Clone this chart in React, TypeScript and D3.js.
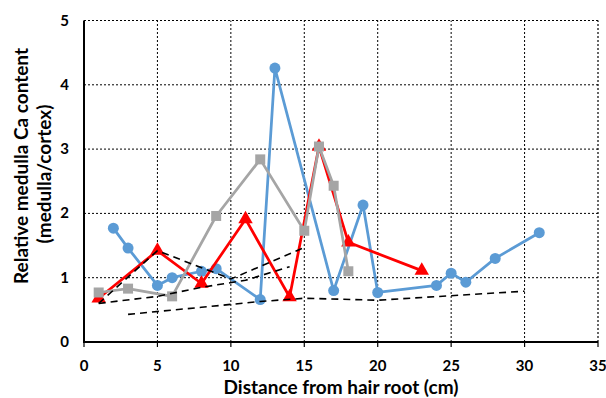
import React from "react";
import * as d3 from "d3";

const blueX = [2, 3, 5, 6, 8, 9, 12, 13, 17, 19, 20, 24, 25, 26, 28, 31];
const blueY = [1.77, 1.46, 0.88, 1.0, 1.1, 1.14, 0.66, 4.26, 0.8, 2.13, 0.77, 0.88, 1.07, 0.93, 1.3, 1.7];

const redX = [1, 5, 8, 11, 14, 16, 18, 23];
const redY = [0.68, 1.42, 0.91, 1.91, 0.7, 3.04, 1.55, 1.11];

const grayX = [1, 3, 6, 9, 12, 15, 16, 17, 18];
const grayY = [0.77, 0.83, 0.71, 1.96, 2.84, 1.73, 3.04, 2.43, 1.1];

const dashAX = [1, 5, 10, 15];
const dashAY = [0.6, 1.42, 0.98, 1.47];
const dashBX = [1, 5, 8, 11, 14];
const dashBY = [0.6, 0.71, 0.85, 0.96, 1.17];
const dashCX = [3, 8, 12, 15, 20, 30];
const dashCY = [0.43, 0.54, 0.63, 0.68, 0.65, 0.79];

const xTicks = [0, 5, 10, 15, 20, 25, 30, 35];
const yTicks = [0, 1, 2, 3, 4, 5];

const W = 606;
const H = 398;
const FONT = "Lato, 'Open Sans', sans-serif";

export default function App() {
  const x = d3.scaleLinear().domain([0, 35]).range([84, 598]);
  const y = d3.scaleLinear().domain([0, 5]).range([342, 20.5]);
  const line = d3
    .line<[number, number]>()
    .x((d) => x(d[0]))
    .y((d) => y(d[1]));
  const zip = (a: number[], b: number[]) => a.map((v, i) => [v, b[i]] as [number, number]);

  const blue = zip(blueX, blueY);
  const red = zip(redX, redY);
  const gray = zip(grayX, grayY);
  const dashes = [zip(dashAX, dashAY), zip(dashBX, dashBY), zip(dashCX, dashCY)];
  const tri = d3.symbol().type(d3.symbolTriangle).size(90)();

  return (
    <svg
      width={W}
      height={H}
      style={{ position: "absolute", left: 0, top: 0, background: "#fff" }}
    >
      <rect x={0} y={0} width={W} height={H} fill="#fff" />
      {/* grid */}
      {xTicks.slice(1).map((t) => (
        <line
          key={"gx" + t}
          x1={x(t)}
          x2={x(t)}
          y1={y(0)}
          y2={y(5)}
          stroke={t === 35 ? "#666" : "#000"}
          strokeWidth={t === 35 ? 2 : 1}
          strokeDasharray="2,2"
        />
      ))}
      {yTicks.slice(1).map((t) => (
        <line
          key={"gy" + t}
          x1={x(0)}
          x2={x(35)}
          y1={y(t)}
          y2={y(t)}
          stroke="#000"
          strokeWidth={1}
          strokeDasharray="2,2"
        />
      ))}
      {/* axes */}
      <line x1={x(0)} x2={x(0)} y1={y(0) + 1} y2={y(5)} stroke="#000" strokeWidth={2} />
      <line x1={x(0) - 1} x2={x(35)} y1={y(0)} y2={y(0)} stroke="#000" strokeWidth={2} />
      {xTicks.map((t) => (
        <line key={"tx" + t} x1={x(t)} x2={x(t)} y1={y(0)} y2={y(0) + 5} stroke="#000" strokeWidth={1.2} />
      ))}
      {/* tick labels */}
      {xTicks.map((t) => (
        <text
          key={"lx" + t}
          x={x(t)}
          y={371}
          textAnchor="middle"
          fontFamily={FONT}
          fontWeight="bold"
          fontSize={15}
          fill="#000"
        >
          {t}
        </text>
      ))}
      {yTicks.map((t) => (
        <text
          key={"ly" + t}
          x={69}
          y={y(t) + 5}
          textAnchor="end"
          fontFamily={FONT}
          fontWeight="bold"
          fontSize={15}
          fill="#000"
        >
          {t}
        </text>
      ))}
      {/* axis titles */}
      <text
        x={341}
        y={394}
        textAnchor="middle"
        fontFamily={FONT}
        fontWeight="bold"
        fontSize={19}
        fill="#000"
      >
        Distance from hair root (cm)
      </text>
      <text
        transform="translate(28,166) rotate(-90)"
        textAnchor="middle"
        fontFamily={FONT}
        fontWeight="bold"
        fontSize={19}
        fill="#000"
      >
        Relative medulla Ca content
      </text>
      <text
        transform="translate(51,174) rotate(-90)"
        textAnchor="middle"
        fontFamily={FONT}
        fontWeight="bold"
        fontSize={19}
        fill="#000"
      >
        (medulla/cortex)
      </text>

      {/* blue series */}
      <path d={line(blue) || ""} fill="none" stroke="#5B9BD5" strokeWidth={2.75} strokeLinejoin="round" />
      {blue.map((d, i) => (
        <circle key={"b" + i} cx={x(d[0])} cy={y(d[1])} r={5.5} fill="#5B9BD5" />
      ))}
      {/* red series */}
      <path d={line(red) || ""} fill="none" stroke="#FF0000" strokeWidth={2.75} strokeLinejoin="round" />
      {red.map((d, i) => (
        <path key={"r" + i} d={tri || ""} transform={`translate(${x(d[0])},${y(d[1])})`} fill="#FF0000" />
      ))}
      {/* gray series */}
      <path d={line(gray) || ""} fill="none" stroke="#A5A5A5" strokeWidth={2.75} strokeLinejoin="round" />
      {gray.map((d, i) => (
        <rect key={"g" + i} x={x(d[0]) - 5} y={y(d[1]) - 5} width={10} height={10} fill="#A5A5A5" />
      ))}
      {/* dashed lines */}
      {dashes.map((dd, i) => (
        <path
          key={"d" + i}
          d={line(dd) || ""}
          fill="none"
          stroke="#000"
          strokeWidth={1.6}
          strokeDasharray="7,5"
        />
      ))}
    </svg>
  );
}
